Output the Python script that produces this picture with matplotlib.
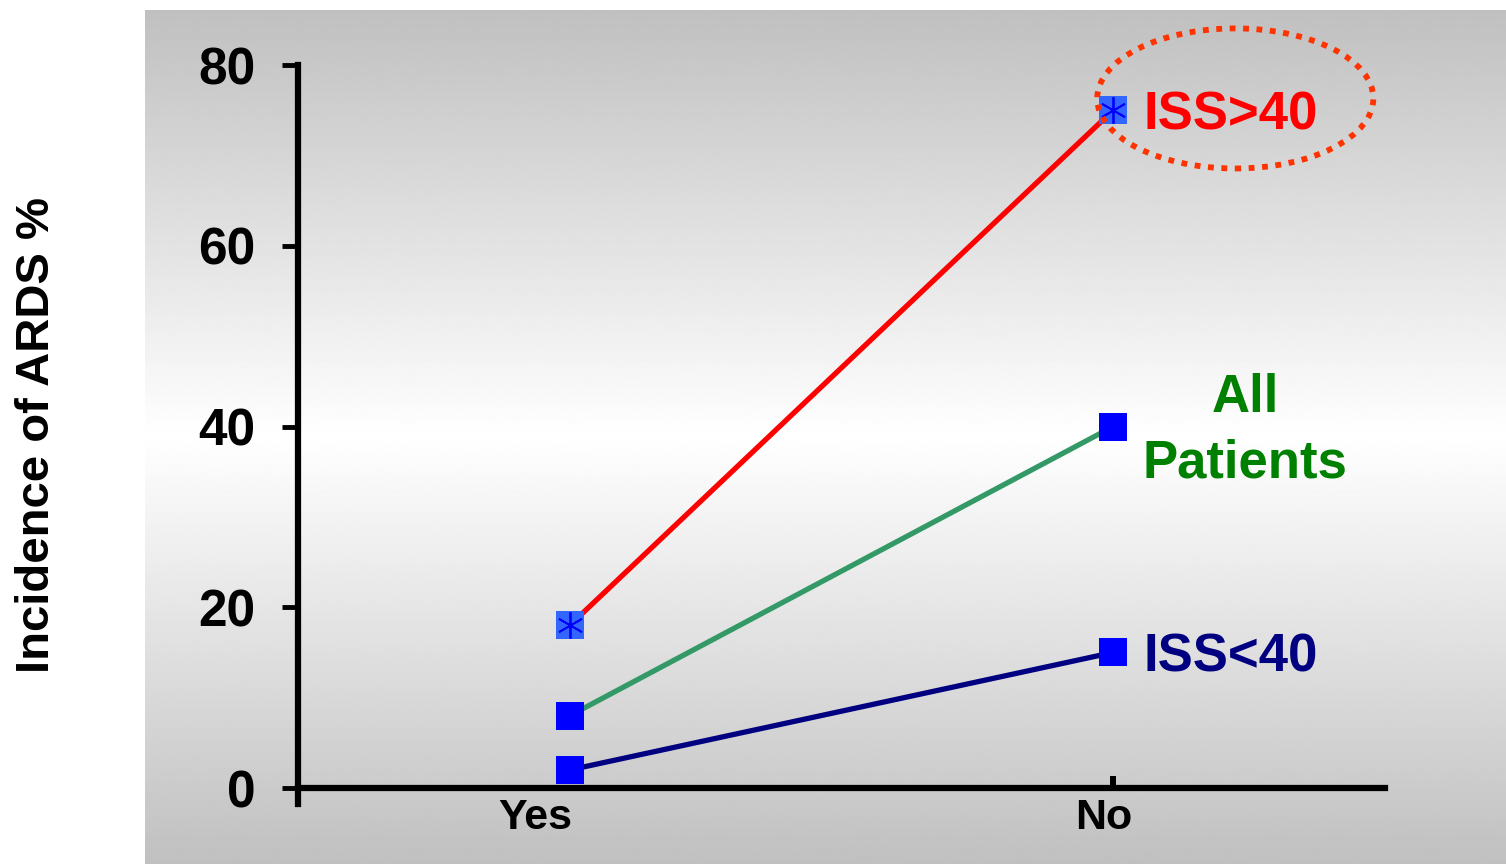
import numpy as np
from matplotlib import pyplot as plt
from matplotlib.patches import Ellipse

plt.rcParams['font.family'] = ['Liberation Sans', 'DejaVu Sans']
plt.rcParams['font.weight'] = 'bold'

# incidence of ARDS (%) by group
groups = ['Yes', 'No']
iss_high = [18, 75]     # ISS>40
all_pts = [8, 40]       # All Patients
iss_low = [2, 15]       # ISS<40

fig = plt.figure(figsize=(15.06, 8.64), dpi=100)
fig.patch.set_facecolor('white')

# grey -> white -> grey backdrop panel
bg = fig.add_axes([145/1506, 0, 1 - 145/1506, (864 - 10)/864], zorder=0)
t = np.linspace(0, 1, 400)
shade = 0.753 + (1 - 0.753) * (1 - np.abs(t - 0.5) * 2)
bg.imshow(shade[:, None], cmap='gray', vmin=0, vmax=1, aspect='auto',
          extent=(0, 1, 0, 1), interpolation='bilinear')
bg.axis('off')

ax = fig.add_axes([298/1506, 1 - 804/864, (1385 - 298)/1506, (804 - 65)/864], zorder=1)
ax.patch.set_alpha(0)

x = np.arange(len(groups))
lw = 3.8
ax.plot(x, iss_high, color='#ff0000', lw=lw, zorder=2)
ax.plot(x, all_pts, color='#339966', lw=lw, zorder=2)
ax.plot(x, iss_low, color='#000080', lw=lw, zorder=2)

ax.plot(x, all_pts, ls='none', marker='s', ms=20, mew=0, color='#0000ff', zorder=3)
ax.plot(x, iss_low, ls='none', marker='s', ms=20, mew=0, color='#0000ff', zorder=3)
ax.plot(x, iss_high, ls='none', marker='s', ms=20, mew=0, color='#3366ff', zorder=3)
ax.plot(x, iss_high, ls='none', marker=(6, 2, 0), ms=19, mew=1.3, color='#0000ff', zorder=4)

ax.set_xlim(-0.5, 1.5)
ax.set_ylim(-1.77, 80)

for s in ['top', 'right']:
    ax.spines[s].set_visible(False)
ax.spines['left'].set_linewidth(4.5)
ax.spines['bottom'].set_linewidth(4.5)
ax.spines['bottom'].set_position(('data', 0))

ax.set_yticks([0, 20, 40, 60, 80])
ax.tick_params(axis='y', direction='out', length=11.5, width=3.5, pad=19, labelsize=37)
ax.set_xticks([1])
ax.set_xticklabels([''])
ax.tick_params(axis='x', direction='in', length=8.6, width=4.3)

# category labels under the axis
for xi, name, dx in zip(x, groups, [-25, -7]):
    ax.annotate(name, (xi, 0), xytext=(dx, -21.6), textcoords='offset points',
                ha='center', va='center', fontsize=31, fontweight='bold',
                color='black', annotation_clip=False)

fig.text(37/1506, 1 - 435/864, 'Incidence of ARDS %', rotation=90,
         ha='center', va='center', fontsize=34, fontweight='bold')

# series labels
ax.annotate('ISS>40', (1, iss_high[1]), xytext=(22, -4), textcoords='offset points',
            ha='left', va='center', fontsize=38, color='#ff0000', annotation_clip=False)
ax.annotate('ISS<40', (1, iss_low[1]), xytext=(22, -4), textcoords='offset points',
            ha='left', va='center', fontsize=38, color='#000080', annotation_clip=False)
ax.annotate('All\nPatients', (1, all_pts[1]), xytext=(95, -3), textcoords='offset points',
            ha='center', va='center', fontsize=38, color='#008000',
            linespacing=1.4, annotation_clip=False)

# dotted ring round the high-ISS label
ring = Ellipse((1.2245, iss_high[1] + 1.3), 0.508, 15.5, fill=False,
               edgecolor='#ff3300', lw=4.2, linestyle=(0, (1, 1.3)),
               clip_on=False, zorder=5)
ax.add_patch(ring)

fig.savefig('out.png', dpi=100)
